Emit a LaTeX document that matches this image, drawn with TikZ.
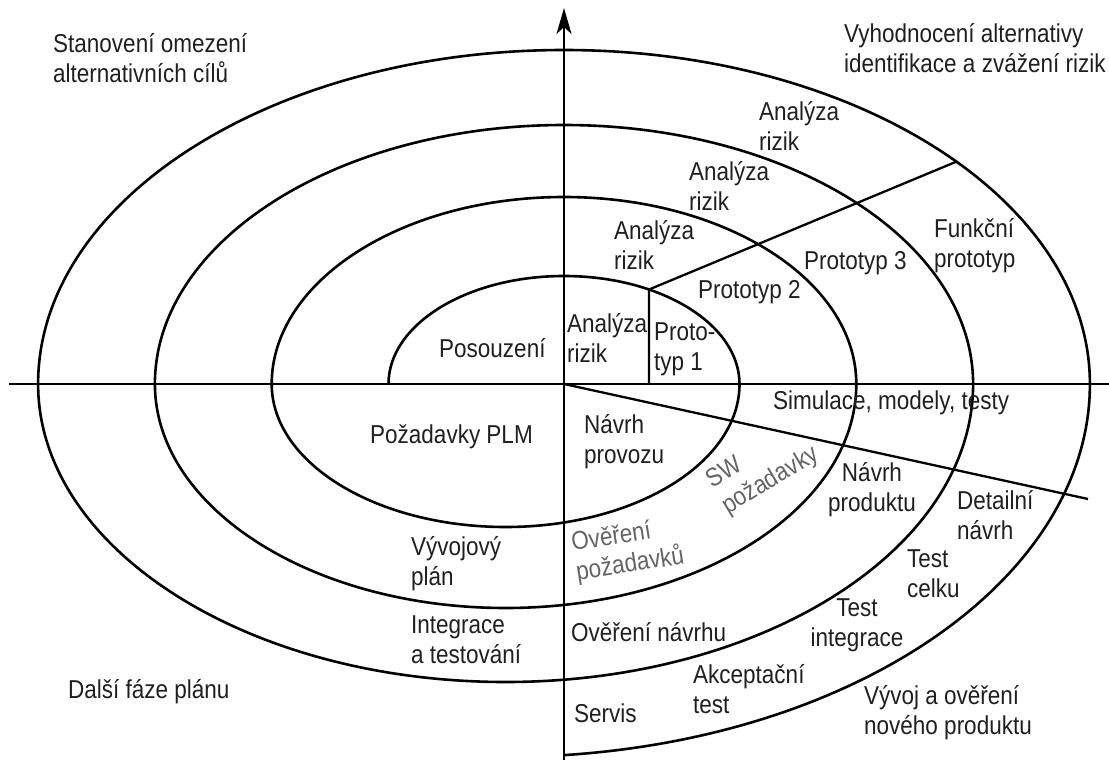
\documentclass[tikz,border=0pt]{standalone}
\usepackage{fontspec}
\setmainfont{Liberation Sans}
\usetikzlibrary{arrows.meta}
\definecolor{txtgray}{RGB}{100,100,100}
\begin{document}
\begin{tikzpicture}[x=1pt,y=-1pt,
  spiral/.style={line width=2.6pt, line join=round},
  axis/.style={line width=2.3pt},
  ray/.style={line width=2.3pt},
  lbl/.style={font=\fontsize{22.5}{26}\selectfont, align=left, inner sep=0pt, anchor=west, yscale=1.15, text=black!88},
  ctr/.style={lbl, anchor=center, align=center},
  gry/.style={text=txtgray}]
\useasboundingbox (0,0) rectangle (1109,760);
\coordinate (O) at (564,384);
\coordinate (hL) at (9,384);
\coordinate (hR) at (1109,384);
\coordinate (vB) at (564,760);
\coordinate (vT) at (564,8);
\coordinate (S0) at (388.5,384);
\coordinate (P1) at ([shift={(O)}]61.03:175.5pt and 108pt);
\coordinate (P4) at ([shift={(O)}]41.74:525.9pt and 334pt);
\coordinate (R2) at (1088,499);

% axes
\draw[axis] (hL) -- (hR);
\draw[axis,-{Stealth[length=26pt,width=15pt,inset=7pt]}] (vB) -- (vT);

% spiral
\draw[spiral] (S0)
  arc[start angle=180,end angle=0,x radius=175.5pt,y radius=108pt]
  arc[start angle=0,end angle=-180,x radius=233.9pt,y radius=143pt]
  arc[start angle=180,end angle=0,x radius=292.3pt,y radius=187pt]
  arc[start angle=0,end angle=-180,x radius=350.7pt,y radius=224pt]
  arc[start angle=180,end angle=0,x radius=409.1pt,y radius=259pt]
  arc[start angle=0,end angle=-180,x radius=467.5pt,y radius=298pt]
  arc[start angle=180,end angle=0,x radius=525.9pt,y radius=334pt]
  arc[start angle=0,end angle=-84.26,x radius=584.3pt,y radius=373pt];

% radial lines
\draw[ray] (P1 |- O) -- (P1) -- (P4);
\draw[ray] (O) -- (R2);

% labels
\node[lbl] (stan) at (53,58) {Stanovení omezení\\alternativních cílů};
\node[lbl] (vyh) at (844,48) {Vyhodnocení alternativy\\identifikace a zvážení rizik};
\node[lbl] (pos) at (439,348) {Posouzení};
\node[lbl] (ar4) at (759,126) {Analýza\\rizik};
\node[lbl] (ar3) at (689,186) {Analýza\\rizik};
\node[lbl] (ar2) at (614,245) {Analýza\\rizik};
\node[lbl] (ar1) at (567,338) {Analýza\\rizik};
\node[lbl] (p1) at (654,349) {Proto-\\typ 1};
\node[lbl] (p2) at (698,292) {Prototyp 2};
\node[lbl] (p3) at (804,263) {Prototyp 3};
\node[lbl] (fp) at (934,246) {Funkční\\prototyp};
\node[lbl] (sim) at (773,403) {Simulace, modely, testy};
\node[lbl] (plm) at (370,437) {Požadavky PLM};
\node[lbl] (nprov) at (584,442) {Návrh\\provozu};
\node[rotate=31,lbl,gry] (sw) at (717,496) {SW\\požadavky};
\node[rotate=9,lbl,gry] (ovp) at (574,559) {Ověření\\požadavků};
\node[ctr] (nprod) at (872,490) {Návrh\\produktu};
\node[lbl] (det) at (957,515) {Detailní\\návrh};
\node[lbl] (vp) at (411,564) {Vývojový\\plán};
\node[lbl] (int) at (411,640) {Integrace\\a testování};
\node[lbl] (ovn) at (571,632) {Ověření návrhu};
\node[lbl] (tc) at (907,574) {Test\\celku};
\node[ctr] (ti) at (857,625) {Test\\integrace};
\node[lbl] (dal) at (68,692) {Další fáze plánu};
\node[lbl] (akc) at (693,689) {Akceptační\\test};
\node[lbl] (ser) at (574,713) {Servis};
\node[lbl] (vyv) at (864,713) {Vývoj a ověření\\nového produktu};
\end{tikzpicture}
\end{document}
